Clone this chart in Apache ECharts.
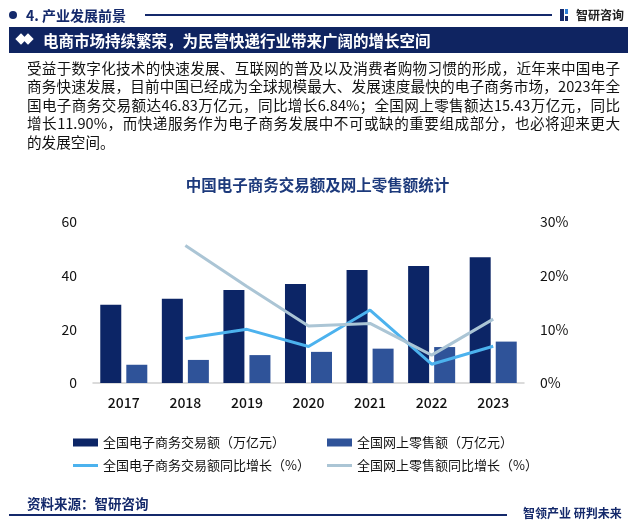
<!DOCTYPE html>
<html>
<head>
<meta charset="utf-8">
<script src="https://cdn.jsdelivr.net/npm/echarts@6/dist/echarts.min.js"></script>
<style>
  html,body{margin:0;padding:0;background:#fff;}
  #wrap{position:relative;width:635px;height:527px;overflow:hidden;font-family:"Noto Sans CJK SC","Noto Sans",sans-serif;}
  #chart{position:absolute;left:0;top:0;width:635px;height:527px;}
  .abs{position:absolute;}
  .para div{white-space:nowrap;text-align:justify;text-align-last:justify;width:593px;height:18.4px;line-height:18.4px;}
  .para div.last{text-align-last:left;}
</style>
</head>
<body>
<div id="wrap">
  <div id="chart"></div>
  <!-- header -->
  <div class="abs" style="left:9px;top:11px;width:8px;height:8px;border-radius:50%;background:#14296b;"></div>
  <div class="abs" style="left:26px;top:5px;font-size:14px;font-weight:bold;color:#14296b;line-height:20px;">4. 产业发展前景</div>
  <div class="abs" style="left:145px;top:14px;width:407px;height:1.5px;background:#14296b;"></div>
  <div class="abs" style="left:560px;top:9px;width:4px;height:12px;background:#14296b;"></div>
  <div class="abs" style="left:565px;top:9px;width:3px;height:5px;background:#2f7fd6;"></div>
  <div class="abs" style="left:565px;top:16px;width:3px;height:5px;background:#14296b;"></div>
  <div class="abs" style="left:576px;top:5px;font-size:12px;font-weight:bold;color:#222;line-height:20px;">智研咨询</div>
  <div class="abs" style="left:9px;top:27px;width:619px;height:26px;background:#0f2461;"></div>
  <div class="abs" style="left:17px;top:35px;width:8px;height:8px;background:#fff;transform:rotate(45deg);"></div>
  <div class="abs" style="left:24px;top:35px;width:8px;height:8px;background:#fff;transform:rotate(45deg);"></div>
  <div class="abs" style="left:43px;top:27px;font-size:15.5px;font-weight:bold;color:#fff;line-height:26px;">电商市场持续繁荣，为民营快递行业带来广阔的增长空间</div>
  <!-- paragraph -->
  <div class="abs para" style="left:27px;top:59px;font-size:14.6px;color:#111;">
    <div>受益于数字化技术的快速发展、互联网的普及以及消费者购物习惯的形成，近年来中国电子</div>
    <div>商务快速发展，目前中国已经成为全球规模最大、发展速度最快的电子商务市场，2023年全</div>
    <div>国电子商务交易额达46.83万亿元，同比增长6.84%；全国网上零售额达15.43万亿元，同比</div>
    <div>增长11.90%，而快递服务作为电子商务发展中不可或缺的重要组成部分，也必将迎来更大</div>
    <div class="last">的发展空间。</div>
  </div>
  <!-- footer -->
  <div class="abs" style="left:27px;top:493px;font-size:13.5px;font-weight:bold;color:#14296b;line-height:20px;">资料来源：智研咨询</div>
  <div class="abs" style="left:9px;top:514px;width:498px;height:1.5px;background:#14296b;"></div>
  <div class="abs" style="left:523px;top:504px;font-size:12px;font-weight:bold;color:#14296b;line-height:18px;">智领产业 研判未来</div>
</div>
<script>
var categories = ['2017','2018','2019','2020','2021','2022','2023'];
var ecVolume = [29.16, 31.4, 34.7, 36.9, 42.1, 43.6, 46.83];
var onlineRetail = [6.8, 8.6, 10.4, 11.6, 12.8, 13.4, 15.43];
var ecGrowth = [null, 8.3, 10.0, 6.8, 13.6, 3.5, 6.84];
var retailGrowth = [null, 25.6, 18.0, 10.6, 11.1, 5.2, 11.9];
var leftTicks = [0, 20, 40, 60];
var rightTicks = [0, 10, 20, 30];

var names = ['全国电子商务交易额（万亿元）','全国网上零售额（万亿元）','全国电子商务交易额同比增长（%）','全国网上零售额同比增长（%）'];
var font = '"Noto Sans CJK SC","Noto Sans",sans-serif';
var lineIcon = 'path://M0,0M0,8M0,2.5H25V5.5H0Z';
var chart = echarts.init(document.getElementById('chart'));
var legendBase = {
  orient:'vertical', top:431, itemWidth:25, itemHeight:8, itemGap:10,
  textStyle:{fontSize:13, color:'#111', fontFamily:font}
};
chart.setOption({
  backgroundColor:'#fff',
  title:{text:'中国电子商务交易额及网上零售额统计', left:'center', top:172,
    textStyle:{fontSize:15.5, fontWeight:'bold', color:'#1d3a7c', fontFamily:font}},
  legend:[
    Object.assign({left:68, data:[{name:names[0], icon:'rect'},{name:names[2], icon:lineIcon}]}, legendBase),
    Object.assign({left:322, data:[{name:names[1], icon:'rect'},{name:names[3], icon:lineIcon}]}, legendBase)
  ],
  grid:{left:93, right:111, top:222, bottom:144},
  xAxis:{type:'category', data:categories,
    axisLine:{lineStyle:{color:'#cfcfcf', width:1.5}}, axisTick:{show:false},
    axisLabel:{fontSize:14, color:'#111', margin:13, fontWeight:500, fontFamily:font}},
  yAxis:[
    {type:'value', min:leftTicks[0], max:leftTicks[leftTicks.length-1], interval:20,
      splitLine:{show:false}, axisLine:{show:false}, axisTick:{show:false},
      axisLabel:{fontSize:14, color:'#111', margin:16, fontFamily:font}},
    {type:'value', min:rightTicks[0], max:rightTicks[rightTicks.length-1], interval:10,
      splitLine:{show:false}, axisLine:{show:false}, axisTick:{show:false},
      axisLabel:{fontSize:14, color:'#111', margin:16, formatter:'{value}%', fontFamily:font}}
  ],
  series:[
    {name:names[0], type:'bar', data:ecVolume, barWidth:21, barGap:'24%', itemStyle:{color:'#0c2566'}},
    {name:names[1], type:'bar', data:onlineRetail, barWidth:21, itemStyle:{color:'#2f5399'}},
    {name:names[2], type:'line', yAxisIndex:1, data:ecGrowth, symbol:'none', lineStyle:{width:3, color:'#4cb2ee'}, itemStyle:{color:'#4cb2ee'}},
    {name:names[3], type:'line', yAxisIndex:1, data:retailGrowth, symbol:'none', lineStyle:{width:3, color:'#abc5d5'}, itemStyle:{color:'#abc5d5'}}
  ]
});
</script>
</body>
</html>
